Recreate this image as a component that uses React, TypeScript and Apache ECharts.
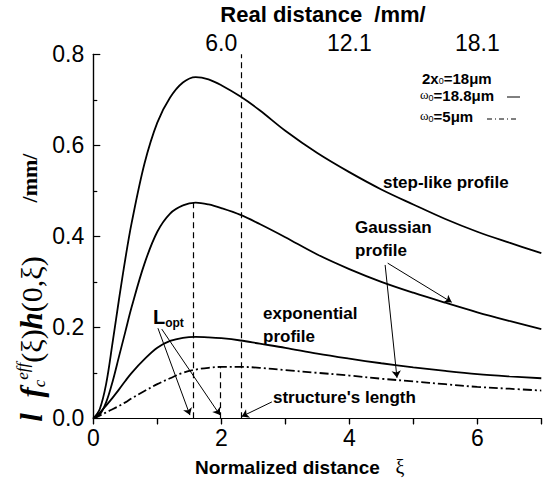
import React, { useEffect, useRef } from 'react';
import * as echarts from 'echarts';

// Normalized distance ξ samples
const xiValues = [0, 0.1, 0.2, 0.3, 0.4, 0.5, 0.6, 0.8, 1.0, 1.2, 1.4, 1.6, 1.8, 2.0, 2.3, 2.6, 3.0, 3.5, 4.0, 4.5, 5.0, 5.5, 6.0, 6.5, 7.0];
const stepLike = [0, 0.02, 0.075, 0.165, 0.26, 0.35, 0.43, 0.56, 0.65, 0.705, 0.738, 0.75, 0.745, 0.732, 0.707, 0.677, 0.632, 0.583, 0.541, 0.503, 0.47, 0.438, 0.41, 0.386, 0.363];
const gaussian = [0, 0.008, 0.035, 0.08, 0.135, 0.19, 0.245, 0.34, 0.41, 0.45, 0.468, 0.474, 0.47, 0.462, 0.447, 0.427, 0.398, 0.36, 0.328, 0.3, 0.276, 0.254, 0.233, 0.214, 0.196];
const exponential = [0, 0.012, 0.028, 0.045, 0.063, 0.082, 0.1, 0.13, 0.155, 0.17, 0.177, 0.179, 0.178, 0.176, 0.171, 0.164, 0.155, 0.142, 0.131, 0.121, 0.112, 0.104, 0.097, 0.092, 0.088];
const exponentialNarrow = [0, 0.006, 0.013, 0.02, 0.027, 0.035, 0.044, 0.06, 0.075, 0.088, 0.1, 0.107, 0.111, 0.113, 0.113, 0.111, 0.106, 0.1, 0.094, 0.087, 0.081, 0.075, 0.069, 0.065, 0.061];

// Top axis: real distance in mm per unit of ξ
const mmPerXi = 3.02;
const bottomTickLabels = [0, 2, 4, 6];
const topLabelIndices = [2, 4, 6];

// Vertical dashed markers [ξ, top value]
const dashedMarkers: [number, number][] = [[1.555, 0.474], [1.98, 0.113], [2.31, 0.8]];
// Annotation arrows [[from], [to]] in data coordinates
const arrows: [number, number][][] = [
  [[4.6, 0.341], [5.6, 0.255]],
  [[4.56, 0.337], [4.745, 0.089]],
  [[1.01, 0.198], [1.51, 0.007]],
  [[1.07, 0.196], [1.98, 0.007]],
  [[2.79, 0.036], [2.32, 0.004]],
];

const SANS = '"Liberation Sans", Arial, sans-serif';
const SERIF = '"Liberation Serif", "Times New Roman", serif';

export default function App() {
  const ref = useRef<HTMLDivElement>(null);
  useEffect(() => {
    if (!ref.current) return;
    const chart = echarts.init(ref.current, undefined, { renderer: 'svg' });
    const toPairs = (ys: number[]) => xiValues.map((x, i) => [x, ys[i]]);
    const lineSeries = (name: string, ys: number[], type: any) => ({
      name,
      type: 'line',
      data: toPairs(ys),
      showSymbol: false,
      smooth: 0.35,
      lineStyle: { color: '#000', width: 1.8, type },
      xAxisIndex: 0,
      yAxisIndex: 0,
      z: 3,
    });
    const legendRich = {
      w: { fontFamily: SERIF, fontSize: 13, lineHeight: 15, verticalAlign: 'top' },
      n: { fontFamily: SANS, fontSize: 15, fontWeight: 'bold', lineHeight: 15, verticalAlign: 'top' },
      s: { fontFamily: SANS, fontSize: 9, lineHeight: 9, padding: [7, 0, 0, 0], verticalAlign: 'bottom' },
    };
    const option: any = {
      animation: false,
      backgroundColor: '#fff',
      grid: { left: 93.3, right: 7.7, top: 54.3, bottom: 63.7, containLabel: false },
      xAxis: [
        {
          type: 'value', position: 'bottom', min: 0, max: 7, interval: 1,
          axisLine: { show: true, lineStyle: { color: '#000', width: 1.2 } },
          axisTick: { show: true, inside: false, length: 6, lineStyle: { color: '#000', width: 1.2 } },
          axisLabel: {
            color: '#000', fontSize: 23, fontFamily: SANS, margin: 8,
            formatter: (v: number) => (bottomTickLabels.includes(Math.round(v)) ? String(Math.round(v)) : ''),
          },
          splitLine: { show: false },
        },
        {
          type: 'value', position: 'top', min: 0, max: 7 * mmPerXi, interval: mmPerXi,
          axisLine: { show: true, lineStyle: { color: '#000', width: 1.2 } },
          axisTick: { show: true, inside: true, length: 6, lineStyle: { color: '#000', width: 1.2 } },
          axisLabel: {
            color: '#000', fontSize: 23, fontFamily: SANS, margin: 0,
            formatter: (v: number) => (topLabelIndices.includes(Math.round(v / mmPerXi)) ? v.toFixed(1) : ''),
          },
          splitLine: { show: false },
        },
      ],
      yAxis: [
        {
          type: 'value', position: 'left', min: 0, max: 0.8, interval: 0.2,
          axisLine: { show: true, lineStyle: { color: '#000', width: 1.2 } },
          axisTick: { show: true, inside: true, length: 7, lineStyle: { color: '#000', width: 1.2 } },
          minorTick: { show: true, splitNumber: 2, length: 4, lineStyle: { color: '#000', width: 1.2 } },
          axisLabel: { color: '#000', fontSize: 23, fontFamily: SANS, margin: 9, formatter: (v: number) => v.toFixed(1) },
          splitLine: { show: false },
        },
        {
          type: 'value', position: 'right', min: 0, max: 0.8,
          axisLine: { show: true, lineStyle: { color: '#000', width: 1.2 } },
          axisTick: { show: false }, axisLabel: { show: false }, splitLine: { show: false },
        },
      ],
      series: [
        lineSeries('step-like', stepLike, 'solid'),
        lineSeries('Gaussian', gaussian, 'solid'),
        lineSeries('exponential', exponential, 'solid'),
        lineSeries('exponential ω0=5µm', exponentialNarrow, [9, 3, 2, 3]),
        {
          type: 'lines', coordinateSystem: 'cartesian2d', xAxisIndex: 0, yAxisIndex: 0,
          symbol: 'none',
          lineStyle: { color: '#000', width: 1.2, type: [6, 4], opacity: 1 },
          data: dashedMarkers.map(([x, y]) => ({ coords: [[x, 0], [x, y]] })),
          z: 2,
        },
        {
          type: 'lines', coordinateSystem: 'cartesian2d', xAxisIndex: 0, yAxisIndex: 0,
          symbol: ['none', 'arrow'], symbolSize: 7,
          lineStyle: { color: '#000', width: 1, opacity: 1 },
          itemStyle: { color: '#000' },
          data: arrows.map((c) => ({ coords: c })),
          z: 4,
        },
      ],
      graphic: [
        { type: 'text', x: 323, y: 14, style: { text: 'Real distance  /mm/', font: `bold 22px ${SANS}`, fill: '#000', align: 'center', verticalAlign: 'middle' } },
        { type: 'text', x: 195, y: 467, style: { text: 'Normalized distance', font: `bold 19px ${SANS}`, fill: '#000', align: 'left', verticalAlign: 'middle' } },
        { type: 'text', x: 400, y: 467, style: { text: 'ξ', font: `20px ${SERIF}`, fill: '#000', align: 'center', verticalAlign: 'middle' } },
        {
          type: 'text', x: 31, y: 339, rotation: Math.PI / 2,
          style: {
            text: '{bi|l  f}{sub|c}{sup|eff}{r|(ξ)}{bi|h}{r|(0,ξ)}',
            align: 'center', verticalAlign: 'middle', fill: '#000',
            rich: {
              bi: { fontFamily: SERIF, fontSize: 31, fontWeight: 'bold', fontStyle: 'italic', lineHeight: 34, verticalAlign: 'middle' },
              r: { fontFamily: SERIF, fontSize: 30, lineHeight: 34, verticalAlign: 'middle' },
              sub: { fontFamily: SERIF, fontSize: 17, fontStyle: 'italic', lineHeight: 17, verticalAlign: 'bottom' },
              sup: { fontFamily: SERIF, fontSize: 17, fontStyle: 'italic', lineHeight: 17, verticalAlign: 'top' },
            },
          },
        },
        { type: 'text', x: 29, y: 178, rotation: Math.PI / 2, style: { text: '/mm/', font: `bold 22px ${SERIF}`, fill: '#000', align: 'center', verticalAlign: 'middle' } },
        { type: 'text', x: 422, y: 78, style: { text: '{n|2x}{s|0}{n|=18μm}', fill: '#000', align: 'left', verticalAlign: 'middle', rich: legendRich } },
        { type: 'text', x: 420, y: 95, style: { text: '{w|ω}{s|0}{n|=18.8μm}', fill: '#000', align: 'left', verticalAlign: 'middle', rich: legendRich } },
        { type: 'text', x: 420, y: 116, style: { text: '{w|ω}{s|0}{n|=5μm}', fill: '#000', align: 'left', verticalAlign: 'middle', rich: legendRich } },
        { type: 'line', shape: { x1: 507, y1: 97, x2: 520, y2: 97 }, style: { stroke: '#000', lineWidth: 1 } },
        { type: 'line', shape: { x1: 487, y1: 119, x2: 517, y2: 119 }, style: { stroke: '#000', lineWidth: 1, lineDash: [5, 3, 1, 3] } },
        { type: 'text', x: 383, y: 182, style: { text: 'step-like profile', font: `bold 17px ${SANS}`, fill: '#000', align: 'left', verticalAlign: 'middle' } },
        { type: 'text', x: 355, y: 227, style: { text: 'Gaussian', font: `bold 17px ${SANS}`, fill: '#000', align: 'left', verticalAlign: 'middle' } },
        { type: 'text', x: 355, y: 250, style: { text: 'profile', font: `bold 17px ${SANS}`, fill: '#000', align: 'left', verticalAlign: 'middle' } },
        { type: 'text', x: 263, y: 313, style: { text: 'exponential', font: `bold 17px ${SANS}`, fill: '#000', align: 'left', verticalAlign: 'middle' } },
        { type: 'text', x: 263, y: 336, style: { text: 'profile', font: `bold 17px ${SANS}`, fill: '#000', align: 'left', verticalAlign: 'middle' } },
        { type: 'text', x: 273, y: 397, style: { text: "structure's length", font: `bold 17px ${SANS}`, fill: '#000', align: 'left', verticalAlign: 'middle' } },
        {
          type: 'text', x: 153, y: 317,
          style: {
            text: '{L|L}{s|opt}', fill: '#000', align: 'left', verticalAlign: 'middle',
            rich: {
              L: { fontFamily: SANS, fontSize: 20, fontWeight: 'bold', lineHeight: 24 },
              s: { fontFamily: SANS, fontSize: 12, fontWeight: 'bold', lineHeight: 12, verticalAlign: 'bottom' },
            },
          },
        },
      ],
    };
    chart.setOption(option);
    return () => chart.dispose();
  }, []);
  return <div ref={ref} style={{ position: 'fixed', left: 0, top: 0, width: 549, height: 482 }} />;
}
